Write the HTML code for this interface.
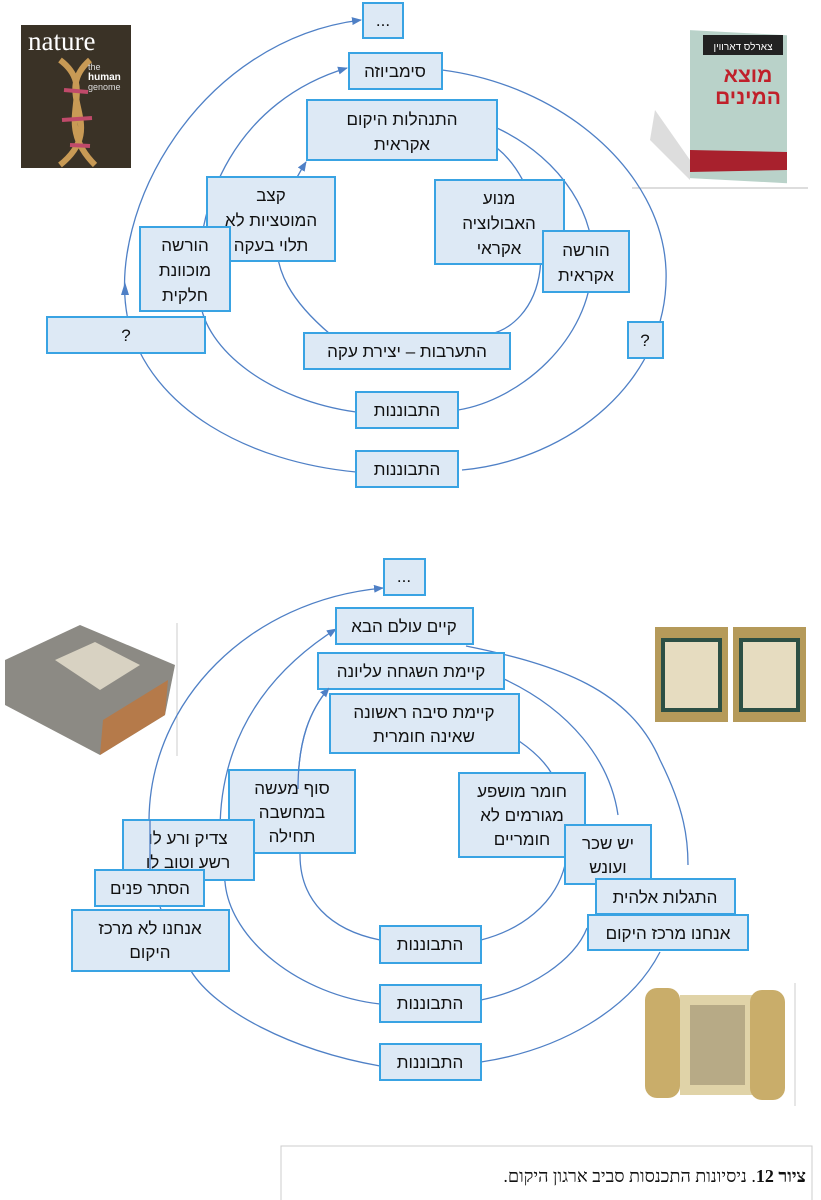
<!DOCTYPE html>
<html><head><meta charset="utf-8"><style>
html,body{margin:0;padding:0;background:#fff;}
svg{display:block;}
text{font-family:"Liberation Sans","DejaVu Sans",sans-serif;font-size:17px;fill:#111;}
.b{fill:#dde9f5;stroke:#39a3e3;stroke-width:2;}
.l{fill:none;stroke:#4f80c6;stroke-width:1.3;}
</style></head><body>
<svg width="821" height="1200" viewBox="0 0 821 1200" xmlns="http://www.w3.org/2000/svg">
<defs>
<marker id="a" markerWidth="10" markerHeight="8" refX="9" refY="4" orient="auto" markerUnits="userSpaceOnUse">
<path d="M0,0 L10,4 L0,8 z" fill="#4f80c6"/></marker>
</defs>

<rect x="21" y="25" width="110" height="143" fill="#3a3226"/>
<path d="M60,60 C100,90 50,120 95,165 M90,60 C50,95 110,125 60,165" stroke="#c89a55" stroke-width="6" fill="none"/>
<path d="M64,90 L88,92 M62,120 L92,118 M70,145 L90,146" stroke="#c04a6a" stroke-width="4"/>
<text x="28" y="50" style="font-family:'Liberation Serif',serif;font-size:27px;fill:#fff">nature</text>
<text x="88" y="70" style="font-size:9px;fill:#ddd">the</text>
<text x="88" y="80" style="font-size:10px;fill:#fff;font-weight:bold">human</text>
<text x="88" y="90" style="font-size:9px;fill:#ddd">genome</text>
<rect x="632" y="20" width="176" height="168" fill="#fff"/>
<line x1="632" y1="188" x2="808" y2="188" stroke="#bbb"/>
<path d="M655,110 L690,160 L690,180 L650,140 z" fill="#ddd"/>
<rect x="690" y="32" width="97" height="148" fill="#b9d2c9" transform="skewY(3) translate(0,-38)"/>
<rect x="703" y="35" width="80" height="20" fill="#222"/>
<text x="743" y="50" text-anchor="middle" style="font-size:10px;fill:#fff">צארלס דארווין</text>
<text x="748" y="82" text-anchor="middle" style="font-size:21px;fill:#c0202a;font-weight:bold">מוצא</text>
<text x="748" y="104" text-anchor="middle" style="font-size:21px;fill:#c0202a;font-weight:bold">המינים</text>
<path d="M690,150 L787,152 L787,170 L690,172 z" fill="#a8212d"/>

<path class="l" d="M356,472 C250,462 150,410 128,320 C105,210 200,40 361,20" marker-end="url(#a)"/>
<path d="M125,282 L121,295 L129,295 z" fill="#4f80c6"/>
<path class="l" d="M442,70 C560,85 662,170 666,270 C670,380 570,460 462,470"/>
<path class="l" d="M497,128 C565,160 597,220 592,265 C590,340 520,400 458,410"/>
<path class="l" d="M356,412 C270,400 205,350 200,300 C190,200 240,100 347,68" marker-end="url(#a)"/>
<path class="l" d="M497,148 C530,175 545,230 540,270 C535,310 510,330 490,334"/>
<path class="l" d="M330,334 C290,300 275,270 277,240 C280,205 296,178 306,162" marker-end="url(#a)"/>

<rect class="b" x="363" y="3" width="40" height="35"/><text x="383" y="26" text-anchor="middle">...</text>
<rect class="b" x="349" y="53" width="93" height="36"/><text x="395" y="77" text-anchor="middle">סימביוזה</text>
<rect class="b" x="307" y="100" width="190" height="60"/><text x="402" y="125" text-anchor="middle">התנהלות היקום</text><text x="402" y="150" text-anchor="middle">אקראית</text>
<rect class="b" x="207" y="177" width="128" height="84"/><text x="271" y="201" text-anchor="middle">קצב</text><text x="271" y="226" text-anchor="middle">המוטציות לא</text><text x="271" y="251" text-anchor="middle">תלוי בעקה</text>
<rect class="b" x="435" y="180" width="129" height="84"/><text x="499" y="204" text-anchor="middle">מנוע</text><text x="499" y="229" text-anchor="middle">האבולוציה</text><text x="499" y="254" text-anchor="middle">אקראי</text>
<rect class="b" x="140" y="227" width="90" height="84"/><text x="185" y="251" text-anchor="middle">הורשה</text><text x="185" y="276" text-anchor="middle">מוכוונת</text><text x="185" y="301" text-anchor="middle">חלקית</text>
<rect class="b" x="543" y="231" width="86" height="61"/><text x="586" y="256" text-anchor="middle">הורשה</text><text x="586" y="281" text-anchor="middle">אקראית</text>
<rect class="b" x="47" y="317" width="158" height="36"/><text x="126" y="341" text-anchor="middle">?</text>
<rect class="b" x="628" y="322" width="35" height="36"/><text x="645" y="346" text-anchor="middle">?</text>
<rect class="b" x="304" y="333" width="206" height="36"/><text x="407" y="357" text-anchor="middle">התערבות – יצירת עקה</text>
<rect class="b" x="356" y="392" width="102" height="36"/><text x="407" y="416" text-anchor="middle">התבוננות</text>
<rect class="b" x="356" y="451" width="102" height="36"/><text x="407" y="475" text-anchor="middle">התבוננות</text>

<rect x="0" y="623" width="177" height="133" fill="#fff"/>
<line x1="177" y1="623" x2="177" y2="756" stroke="#ccc"/>
<path d="M5,660 L80,625 L175,665 L165,715 L100,755 L5,705 z" fill="#8c8a84"/>
<path d="M100,755 L165,715 L168,680 L103,720 z" fill="#b57a4a"/>
<path d="M55,660 L95,642 L140,665 L100,690 z" fill="#d8d2c2"/>
<rect x="652" y="623" width="168" height="107" fill="#fff"/>
<rect x="655" y="627" width="73" height="95" fill="#b59a5a"/><rect x="663" y="640" width="57" height="70" fill="#e6dcc0" stroke="#2c4f44" stroke-width="4"/>
<rect x="733" y="627" width="73" height="95" fill="#b59a5a"/><rect x="741" y="640" width="57" height="70" fill="#e6dcc0" stroke="#2c4f44" stroke-width="4"/>
<rect x="633" y="983" width="162" height="123" fill="#fff"/>
<line x1="795" y1="983" x2="795" y2="1106" stroke="#ccc"/>
<rect x="680" y="995" width="75" height="100" fill="#e0d3a8"/>
<rect x="690" y="1005" width="55" height="80" fill="#b7aa86"/>
<rect x="645" y="988" width="35" height="110" rx="12" fill="#c9ad6a"/>
<rect x="750" y="990" width="35" height="110" rx="12" fill="#c9ad6a"/>

<path class="l" d="M380,1066 C290,1050 215,1010 191,971 C160,920 140,860 149,820 C150,700 250,600 383,588" marker-end="url(#a)"/>
<path class="l" d="M380,1004 C300,995 230,940 225,882 C210,800 225,700 336,629" marker-end="url(#a)"/>
<path class="l" d="M380,940 C330,930 300,900 300,855 L298,789 C298,740 310,710 329,688" marker-end="url(#a)"/>
<path class="l" d="M466,646 C560,665 630,690 660,760 C685,810 688,840 688,865"/>
<path class="l" d="M660,952 C630,1010 560,1050 481,1062"/>
<path class="l" d="M504,679 C570,710 610,760 618,815"/>
<path class="l" d="M587,928 C575,960 530,990 481,1000"/>
<path class="l" d="M519,741 C535,752 545,762 552,774"/>
<path class="l" d="M565,865 C555,905 520,930 481,940"/>

<rect class="b" x="384" y="559" width="41" height="36"/><text x="404" y="582" text-anchor="middle">...</text>
<rect class="b" x="336" y="608" width="137" height="36"/><text x="404" y="632" text-anchor="middle">קיים עולם הבא</text>
<rect class="b" x="318" y="653" width="186" height="36"/><text x="411" y="677" text-anchor="middle">קיימת השגחה עליונה</text>
<rect class="b" x="330" y="694" width="189" height="59"/><text x="424" y="718" text-anchor="middle">קיימת סיבה ראשונה</text><text x="424" y="742" text-anchor="middle">שאינה חומרית</text>
<rect class="b" x="229" y="770" width="126" height="83"/><text x="292" y="794" text-anchor="middle">סוף מעשה</text><text x="292" y="818" text-anchor="middle">במחשבה</text><text x="292" y="842" text-anchor="middle">תחילה</text>
<path class="l" d="M298,789 C298,740 310,710 329,688"/>
<rect class="b" x="459" y="773" width="126" height="84"/><text x="522" y="797" text-anchor="middle">חומר מושפע</text><text x="522" y="821" text-anchor="middle">מגורמים לא</text><text x="522" y="845" text-anchor="middle">חומריים</text>
<rect class="b" x="123" y="820" width="131" height="60"/><text x="188" y="844" text-anchor="middle">צדיק ורע לו</text><text x="188" y="868" text-anchor="middle">רשע וטוב לו</text>
<line x1="150" y1="820" x2="150" y2="872" stroke="#4f80c6" stroke-width="1.3"/>
<rect class="b" x="565" y="825" width="86" height="59"/><text x="608" y="849" text-anchor="middle">יש שכר</text><text x="608" y="873" text-anchor="middle">ועונש</text>
<rect class="b" x="95" y="870" width="109" height="36"/><text x="150" y="894" text-anchor="middle">הסתר פנים</text>
<rect class="b" x="596" y="879" width="139" height="35"/><text x="665" y="903" text-anchor="middle">התגלות אלהית</text>
<rect class="b" x="72" y="910" width="157" height="61"/><text x="150" y="934" text-anchor="middle">אנחנו לא מרכז</text><text x="150" y="958" text-anchor="middle">היקום</text>
<rect class="b" x="588" y="915" width="160" height="35"/><text x="668" y="939" text-anchor="middle">אנחנו מרכז היקום</text>
<rect class="b" x="380" y="926" width="101" height="37"/><text x="430" y="950" text-anchor="middle">התבוננות</text>
<rect class="b" x="380" y="985" width="101" height="37"/><text x="430" y="1009" text-anchor="middle">התבוננות</text>
<rect class="b" x="380" y="1044" width="101" height="36"/><text x="430" y="1068" text-anchor="middle">התבוננות</text>

<rect x="281" y="1146" width="531" height="60" fill="#fff" stroke="#ccc"/>
<text x="806" y="1182" text-anchor="start" direction="rtl" style="font-family:'Liberation Serif','DejaVu Serif',serif;font-size:18px"><tspan font-weight="bold">ציור 12</tspan>. ניסיונות התכנסות סביב ארגון היקום.</text>
</svg>
</body></html>
